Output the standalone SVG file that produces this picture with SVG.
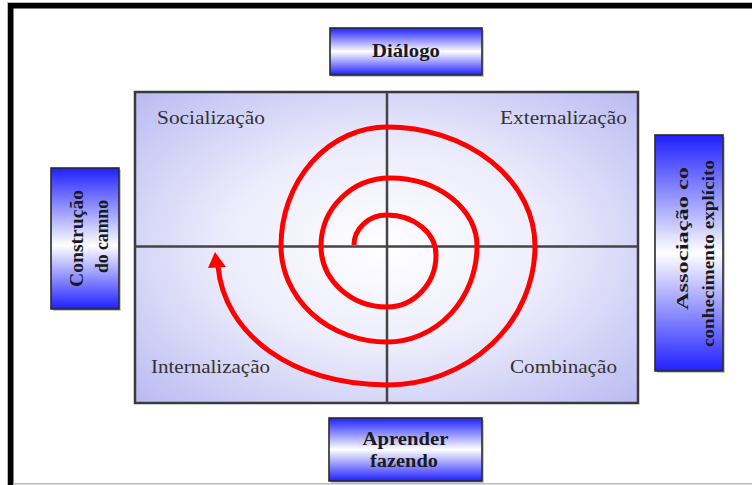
<svg xmlns="http://www.w3.org/2000/svg" width="752" height="485" viewBox="0 0 752 485">
<defs>
  <linearGradient id="bv" x1="0" y1="0" x2="0" y2="1">
    <stop offset="0" stop-color="#2020ff"/>
    <stop offset="0.5" stop-color="#ffffff"/>
    <stop offset="1" stop-color="#2020ff"/>
  </linearGradient>
  <linearGradient id="bt" x1="0" y1="0" x2="0" y2="1">
    <stop offset="0" stop-color="#2020ff"/>
    <stop offset="0.55" stop-color="#ffffff"/>
    <stop offset="1" stop-color="#2020ff"/>
  </linearGradient>
  <radialGradient id="bg" cx="0.5" cy="0.5" r="0.72">
    <stop offset="0" stop-color="#ffffff"/>
    <stop offset="0.45" stop-color="#ececfc"/>
    <stop offset="1" stop-color="#b8b8f2"/>
  </radialGradient>
</defs>
<style>
  .box { stroke:#2a2a2a; stroke-width:1.6; }
  .shadow { fill:#c8c8c8; }
  .blab { font-family:"Liberation Serif","Times New Roman",serif; font-weight:bold; font-size:18px; fill:#1a1a1a; }
  .slab { font-family:"Liberation Serif","Times New Roman",serif; font-weight:bold; font-size:17px; fill:#1a1a1a; }
  .qlab { font-family:"Liberation Serif","Times New Roman",serif; font-size:18px; fill:#333; }
  .axis { stroke:#444; stroke-width:2.5; fill:none; }
  .spiral { stroke:#ff0000; stroke-width:5; fill:none; stroke-linecap:butt; }
</style>
<rect x="0" y="0" width="752" height="485" fill="#ffffff"/>
<g id="frame">
  <rect x="7" y="2" width="745" height="1" fill="#bbbbbb"/>
  <rect x="7" y="2" width="1" height="483" fill="#bbbbbb"/>
  <rect x="8" y="3" width="744" height="5.5" fill="#000"/>
  <rect x="8" y="3" width="5.5" height="482" fill="#000"/>
  <rect x="13" y="483" width="739" height="1.5" fill="#bbbbbb"/>
</g>
<g id="matrix">
  <rect x="135" y="92" width="503" height="311" fill="url(#bg)" stroke="#3a3a3a" stroke-width="2.5"/>
  <line class="axis" x1="387" y1="92" x2="387" y2="403"/>
  <line class="axis" x1="135" y1="246.5" x2="638" y2="246.5"/>
</g>
<g id="q-socializacao"><text class="qlab" x="157" y="124" textLength="108" lengthAdjust="spacingAndGlyphs">Socialização</text></g>
<g id="q-externalizacao"><text class="qlab" x="500" y="124" textLength="127" lengthAdjust="spacingAndGlyphs">Externalização</text></g>
<g id="q-internalizacao"><text class="qlab" x="151" y="373" textLength="119" lengthAdjust="spacingAndGlyphs">Internalização</text></g>
<g id="q-combinacao"><text class="qlab" x="510" y="373" textLength="107" lengthAdjust="spacingAndGlyphs">Combinação</text></g>
<g id="connectors">
  <path class="spiral" d="M354,245 A33,30 0 0 1 387,215 A49,40 0 0 1 436,255 A49,52 0 0 1 387,307 A66,61 0 0 1 321,246 A69,68 0 0 1 390,178 A87,68 0 0 1 477,246 A90,96 0 0 1 387,342 A106,96 0 0 1 281,246 A106,119 0 0 1 387,127 A148,119 0 0 1 535,246 A148,139 0 0 1 387,385 C292,385 224,334 218,266"/>
  <polygon points="215,252 208,268 226,267" fill="#ff0000"/>
</g>
<g id="dialogo">
  <rect class="shadow" x="332" y="30" width="152" height="47"/>
  <rect class="box" x="330" y="28" width="152" height="47" fill="url(#bv)"/>
  <text class="blab" x="406" y="57" text-anchor="middle" textLength="68" lengthAdjust="spacingAndGlyphs">Diálogo</text>
</g>
<g id="aprender-fazendo">
  <rect class="shadow" x="331" y="420" width="153" height="63"/>
  <rect class="box" x="329" y="418" width="153" height="63" fill="url(#bv)"/>
  <text class="blab" x="405.5" y="445" text-anchor="middle" textLength="86" lengthAdjust="spacingAndGlyphs">Aprender</text>
  <text class="blab" x="404" y="467" text-anchor="middle" textLength="68" lengthAdjust="spacingAndGlyphs">fazendo</text>
</g>
<g id="construcao">
  <rect class="shadow" x="53" y="170" width="68" height="141"/>
  <rect class="box" x="51" y="168" width="68" height="141" fill="url(#bt)"/>
  <text class="blab" transform="translate(83,238.5) rotate(-90)" text-anchor="middle" textLength="97" lengthAdjust="spacingAndGlyphs">Construção</text>
  <text class="blab" transform="translate(108,236.5) rotate(-90)" text-anchor="middle" textLength="73" lengthAdjust="spacingAndGlyphs">do camno</text>
</g>
<g id="associacao">
  <rect class="shadow" x="657" y="137" width="68" height="236"/>
  <rect class="box" x="655" y="135" width="68" height="236" fill="url(#bv)"/>
  <text class="slab" transform="translate(688,310) rotate(-90)" textLength="143" lengthAdjust="spacingAndGlyphs">Associação co</text>
  <text class="slab" transform="translate(714,347) rotate(-90)" textLength="187" lengthAdjust="spacingAndGlyphs">conhecimento explícito</text>
</g>
</svg>
